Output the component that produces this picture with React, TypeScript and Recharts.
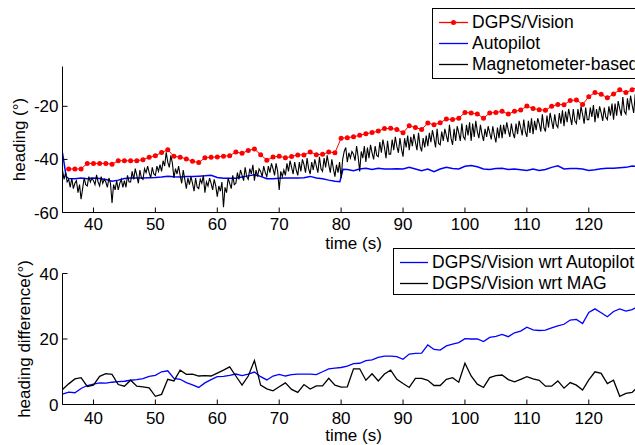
import { LineChart, Line, XAxis, YAxis, Legend } from 'recharts';

const FONT = '"Liberation Sans", Arial, Helvetica, sans-serif';

// ---- top panel: heading (deg) ----
const dgpsStart = 36; // one fix per second
const dgpsVision = [
  -43.6, -43.6, -43.6, -41.5, -41.5, -41.5, -41.5, -41.8, -40.5, -40.5,
  -40.5, -40.5, -40.1, -39.2, -38.6, -37.4, -36.4, -38.8, -39.2, -39.8,
  -40.7, -41.2, -39.4, -39.2, -39.1, -38.8, -38.6, -37.2, -37.7, -36.6,
  -36.1, -38.2, -40.3, -39.1, -38.8, -39.4, -38.9, -38.3, -38.3, -37.2,
  -38.2, -38.1, -37.2, -37.5, -32.0, -31.8, -31.5, -30.9, -30.3, -29.9,
  -29.3, -28.4, -28.3, -28.7, -30.0, -27.3, -28.0, -28.7, -26.3, -26.9,
  -26.2, -24.8, -25.0, -24.5, -22.3, -22.5, -22.9, -24.5, -22.5, -22.3,
  -21.9, -22.9, -21.9, -21.4, -19.9, -20.8, -21.3, -21.5, -20.0, -19.3,
  -19.4, -17.8, -17.6, -19.3, -16.4, -14.8, -15.5, -16.8, -15.4, -13.8,
  -14.8, -13.8, -12.5,
];

const autopilotTime = [
  35, 35.6, 36, 37, 38, 39, 40, 41, 42, 43, 44, 45, 46, 47, 48, 49, 50, 51, 52, 53,
  54, 55, 56, 57, 58, 59, 60, 61, 62, 63, 64, 65, 66, 67, 68, 69, 70, 71, 72, 73,
  74, 75, 76, 77, 78, 79, 79.8, 80.3, 81, 82, 83, 84, 85, 86, 87, 88, 89, 90, 91, 92,
  93, 94, 95, 96, 97, 98, 99, 100, 101, 102, 103, 104, 105, 106, 107, 108, 109, 110,
  111, 112, 113, 114, 115, 116, 117, 118, 119, 120, 121, 122, 123, 124, 125, 126, 127, 128,
];
const autopilotHeading = [
  -37.5, -46.5, -47.2, -47.3, -47.0, -47.3, -47.0, -47.2, -47.6, -48.2,
  -47.8, -47.2, -47.0, -47.0, -47.0, -46.9, -46.8, -46.6, -46.3, -46.5,
  -46.6, -46.4, -46.4, -46.3, -46.2, -46.0, -46.8, -47.1, -47.1, -47.1,
  -46.6, -46.2, -45.8, -46.4, -47.3, -47.3, -47.1, -47.0, -47.0, -47.0,
  -46.9, -46.4, -47.0, -47.3, -47.8, -48.2, -48.4, -43.7, -43.8, -44.3,
  -43.6, -43.3, -43.8, -43.3, -43.6, -43.6, -43.5, -43.6, -43.0, -43.6,
  -44.3, -43.6, -44.6, -43.6, -43.0, -43.4, -43.6, -42.6, -42.3, -42.8,
  -43.6, -43.8, -43.4, -43.3, -43.8, -43.6, -43.9, -44.2, -43.6, -44.2,
  -43.8, -43.0, -42.4, -43.6, -43.4, -43.4, -43.6, -44.2, -43.9, -43.5,
  -43.3, -43.3, -43.1, -43.0, -42.5, -42.6,
];

// magnetometer heading, 4 samples per second (one row per second)
const magStart = 35;
const magStep = 0.25;
const magHeading = [
  -44, -47.5, -45, -48.5,
  -47.5, -50.5, -47, -51,
  -49, -48, -52.5, -49.5,
  -55, -51, -47, -49.5,
  -50, -46.5, -48.5, -47,
  -48, -49.5, -45.8, -48.5,
  -50, -46.5, -49, -47.5,
  -48.5, -50.5, -47, -49,
  -56.4, -49.5, -51.5, -48,
  -51.5, -49, -47.5, -50.5,
  -48, -50.5, -46, -48.5,
  -48.5, -44.5, -47.5, -43.5,
  -46, -49, -44, -47,
  -47.5, -43.5, -45, -42.5,
  -45, -47, -43, -45.5,
  -46, -42.5, -44.5, -42,
  -44.5, -40.5, -42.5, -37.3,
  -41, -43, -38.5, -41.5,
  -47, -43.5, -45.5, -42.5,
  -46, -49, -44, -47.5,
  -51, -47, -49.5, -46.5,
  -49, -52, -47, -50.5,
  -51, -47.5, -49, -46,
  -52.5, -48.5, -50, -47,
  -49, -51.5, -47.5, -50,
  -54, -50, -52, -48.5,
  -58, -50.5, -52.5, -47,
  -49, -51, -46, -49.5,
  -49, -45, -47.5, -44,
  -46, -48, -43, -46.5,
  -47.5, -43.5, -45.5, -42,
  -48, -44, -46.5, -43.5,
  -44.5, -46.5, -42.5, -45,
  -46.5, -42.5, -45, -41.5,
  -43.5, -46, -41.5, -44.5,
  -51.5, -44.5, -46.5, -44,
  -46, -41.5, -44.5, -40.5,
  -43, -45.5, -41, -44,
  -46, -41, -44.5, -40,
  -42, -45, -39.5, -43.5,
  -45.5, -41, -44, -40,
  -42.5, -45, -39, -43.5,
  -44.5, -39.5, -43, -38.5,
  -42, -45, -40, -43.5,
  -46.5, -42, -45, -41,
  -47, -40, -37, -35.5,
  -41, -37.5, -39.5, -37,
  -38, -40.5, -35, -39,
  -44.5, -37, -39.5, -35,
  -41, -35.5, -39.5, -34.5,
  -37.5, -40, -35, -38.5,
  -39, -33.5, -37.5, -32.5,
  -35.5, -39.5, -33, -38,
  -38, -32.5, -36.5, -31.5,
  -35, -37.5, -32, -36,
  -39, -32, -35.5, -31,
  -36.5, -31.5, -35, -30.5,
  -33.5, -36.5, -30, -35,
  -37, -32, -35.5, -31,
  -35, -30, -33.5, -29,
  -32, -35.5, -28.5, -34,
  -34.5, -29.5, -33, -28.5,
  -31, -33.5, -27, -32,
  -34.5, -28.5, -33, -27.5,
  -30, -33, -26.5, -31.5,
  -32.5, -27, -31, -26,
  -33, -26.5, -31.5, -25.5,
  -29.5, -32, -27, -30.5,
  -33, -28.5, -31.5, -27.5,
  -30, -32.5, -27.5, -31,
  -33.6, -28, -32, -27,
  -32, -27, -30.5, -26,
  -29, -31.5, -26.5, -30,
  -32, -26.5, -30.5, -25.5,
  -28, -31, -25, -29.5,
  -31.5, -25.5, -30, -24.5,
  -30.5, -25.5, -29, -24.5,
  -26.5, -29.5, -23, -28,
  -29.5, -23.5, -28, -22.5,
  -25.5, -28.5, -23, -27,
  -28, -22.5, -26.5, -21.5,
  -27.5, -22, -26, -21,
  -24, -27, -21, -25.5,
  -26.5, -21, -25, -20,
  -23, -26.5, -20.5, -25,
  -25, -20.5, -24, -19.5,
  -26, -21, -24.5, -20,
  -22.5, -25.5, -20.5, -24,
  -25, -20, -23.5, -19,
  -25, -19, -23.5, -18,
  -21, -23.5, -16.5, -22,
  -23, -17, -21.5, -16,
  -19.5, -22.5, -15.5, -21,
  -21,
];

// ---- bottom panel: heading difference (deg), one value per second ----
const diffStart = 35;
const diffWrtAutopilot = [
  3.2, 3.8, 3.6, 4.9, 5.8, 6.2, 6.6, 6.5, 6.8, 7.0,
  7.1, 7.4, 7.6, 7.9, 8.6, 8.9, 10.0, 10.3, 8.0, 7.7,
  6.7, 6.0, 5.2, 6.6, 7.6, 8.5, 8.6, 8.9, 9.3, 8.8,
  9.3, 9.9, 8.5, 7.5, 8.7, 9.2, 8.7, 9.1, 9.3, 9.3,
  9.3, 9.1, 10.0, 10.9, 11.1, 11.3, 11.7, 12.5, 12.6, 13.4,
  13.6, 14.4, 14.8, 14.8, 14.6, 13.8, 15.4, 15.6, 15.7, 18.2,
  16.8, 16.6, 17.9, 18.4, 18.9, 20.1, 20.0, 20.0, 19.2, 20.5,
  20.8, 21.4, 20.7, 21.9, 22.4, 23.6, 22.8, 22.6, 22.7, 23.4,
  24.0, 24.5, 25.8, 26.0, 24.7, 28.1, 29.2, 28.0, 26.8, 28.4,
  29.2, 28.5, 29.0, 30.0,
];
const diffWrtMag = [
  4.6, 6.3, 7.8, 8.2, 5.5, 5.9, 8.6, 9.4, 9.2, 6.1,
  5.6, 7.4, 5.6, 5.4, 5.1, 2.5, 3.1, 7.7, 7.2, 10.5,
  9.2, 9.3, 8.7, 8.8, 8.7, 9.6, 10.5, 11.5, 8.7, 5.9,
  8.7, 13.4, 5.9, 4.8, 4.2, 5.4, 6.6, 4.6, 3.7, 6.1,
  4.7, 5.7, 5.7, 8.0, 5.9, 5.3, 5.4, 10.9, 10.9, 7.4,
  9.4, 7.2, 9.3, 10.5, 7.7, 6.4, 5.2, 8.0, 8.0, 7.4,
  5.8, 5.8, 7.7, 8.2, 6.8, 12.6, 8.7, 6.2, 5.2, 8.2,
  8.8, 9.0, 7.6, 6.9, 7.7, 8.5, 7.8, 7.4, 5.6, 5.6,
  7.2, 5.0, 6.7, 5.9, 4.4, 7.5, 10.0, 9.5, 6.4, 7.4,
  2.5, 3.4, 3.7, 5.6,
];

const timeTicks = [40, 50, 60, 70, 80, 90, 100, 110, 120];
const headingTicks = [-60, -40, -20];
const diffTicks = [0, 20, 40];

const series = (start: number, step: number, values: number[]) =>
  values.map((v, i) => ({ t: start + i * step, v }));

const dgpsPts = series(dgpsStart, 1, dgpsVision);
const autopilotPts = autopilotTime.map((t, i) => ({ t, v: autopilotHeading[i] }));
const magPts = series(magStart, magStep, magHeading);
const wrtAutopilotPts = series(diffStart, 1, diffWrtAutopilot);
const wrtMagPts = series(diffStart, 1, diffWrtMag);

const tickStyle = { fontSize: 17, fill: '#000', fontFamily: FONT };

type Item = { name: string; color: string; dot?: boolean };

function LegendBox({ items, sample, padTop, padBottom }: { items: Item[]; sample: number; padTop: number; padBottom: number }) {
  return (
    <div
      style={{
        border: '1px solid #000',
        background: '#fff',
        padding: `${padTop}px 40px ${padBottom}px 6px`,
        fontFamily: FONT,
        fontSize: 17.5,
        lineHeight: '21px',
        color: '#000',
        whiteSpace: 'nowrap',
      }}
    >
      {items.map((it) => (
        <div key={it.name} style={{ display: 'flex', alignItems: 'center', height: 21 }}>
          <svg width={sample} height={21} style={{ marginRight: 4, flex: 'none' }}>
            <line x1={0} x2={sample} y1={10.5} y2={10.5} stroke={it.color} strokeWidth={1.3} />
            {it.dot && <circle cx={sample / 2} cy={10.5} r={2.5} fill={it.color} />}
          </svg>
          <span>{it.name}</span>
        </div>
      ))}
    </div>
  );
}

const topItems: Item[] = [
  { name: 'DGPS/Vision', color: '#ff0000', dot: true },
  { name: 'Autopilot', color: '#0000ff' },
  { name: 'Magnetometer-based', color: '#000' },
];
const bottomItems: Item[] = [
  { name: 'DGPS/Vision wrt Autopilot', color: '#0000ff' },
  { name: 'DGPS/Vision wrt MAG', color: '#000' },
];

export default function App() {
  return (
    <div
      style={{
        position: 'absolute',
        left: 0,
        top: 0,
        width: 635,
        height: 445,
        overflow: 'hidden',
        background: '#fff',
        fontFamily: FONT,
      }}
    >
      <div style={{ position: 'absolute', left: 0, top: 0 }}>
        <LineChart width={645} height={260} margin={{ top: 66.5, right: 0.5, bottom: 0, left: 0.5 }}>
          <XAxis
            type="number"
            dataKey="t"
            domain={[35, 129]}
            ticks={timeTicks}
            allowDataOverflow
            height={47.5}
            stroke="#000"
            tickSize={-5}
            tickMargin={10}
            tick={tickStyle}
            label={{ value: 'time (s)', position: 'insideBottom', offset: 11, fill: '#000', fontSize: 17 }}
          />
          <XAxis
            xAxisId="top"
            orientation="top"
            type="number"
            dataKey="t"
            domain={[35, 129]}
            ticks={timeTicks}
            allowDataOverflow
            height={0}
            stroke="#000"
            tickSize={-5}
            tick={false}
          />
          <YAxis
            type="number"
            domain={[-60, -5]}
            ticks={headingTicks}
            allowDataOverflow
            width={62}
            stroke="#000"
            tickSize={-5}
            tickMargin={9}
            tick={tickStyle}
            label={{
              value: 'heading (°)',
              angle: -90,
              position: 'insideLeft',
              offset: 18,
              fill: '#000',
              fontSize: 17,
              style: { textAnchor: 'middle' },
            }}
          />
          <Line data={dgpsPts} dataKey="v" type="linear" stroke="#ff0000" strokeWidth={1}
            dot={{ r: 2.5, fill: '#ff0000', stroke: 'none' }} isAnimationActive={false} />
          <Line data={autopilotPts} dataKey="v" type="linear" stroke="#0000ff" strokeWidth={1.5}
            dot={false} isAnimationActive={false} />
          <Line data={magPts} dataKey="v" type="linear" stroke="#000" strokeWidth={1.1}
            dot={false} isAnimationActive={false} />
          <Legend
            layout="horizontal"
            verticalAlign="middle"
            align="center"
            wrapperStyle={{ left: 432, top: 8, width: 'auto' }}
            content={() => <LegendBox items={topItems} sample={29} padTop={3} padBottom={3} />}
          />
        </LineChart>
      </div>
      <div style={{ position: 'absolute', left: 0, top: 245 }}>
        <LineChart width={645} height={200} margin={{ top: 28.5, right: 0.5, bottom: 0, left: 0.5 }}>
          <XAxis
            type="number"
            dataKey="t"
            domain={[35, 129]}
            ticks={timeTicks}
            allowDataOverflow
            height={40.5}
            stroke="#000"
            tickSize={-5}
            tickMargin={12}
            tick={tickStyle}
            label={{ value: 'time (s)', position: 'insideBottom', offset: 4, fill: '#000', fontSize: 17 }}
          />
          <XAxis
            xAxisId="top"
            orientation="top"
            type="number"
            dataKey="t"
            domain={[35, 129]}
            ticks={timeTicks}
            allowDataOverflow
            height={0}
            stroke="#000"
            tickSize={-5}
            tick={false}
          />
          <YAxis
            type="number"
            domain={[0, 40]}
            ticks={diffTicks}
            allowDataOverflow
            width={62}
            stroke="#000"
            tickSize={-5}
            tickMargin={9}
            tick={tickStyle}
            label={{
              value: 'heading difference(°)',
              angle: -90,
              position: 'insideLeft',
              offset: 23,
              fill: '#000',
              fontSize: 17,
              style: { textAnchor: 'middle' },
            }}
          />
          <Line data={wrtAutopilotPts} dataKey="v" type="linear" stroke="#0000ff" strokeWidth={1.3}
            dot={false} isAnimationActive={false} />
          <Line data={wrtMagPts} dataKey="v" type="linear" stroke="#000" strokeWidth={1.3}
            dot={false} isAnimationActive={false} />
          <Legend
            layout="horizontal"
            verticalAlign="middle"
            align="center"
            wrapperStyle={{ left: 393, top: 3, width: 'auto' }}
            content={() => <LegendBox items={bottomItems} sample={28} padTop={2.5} padBottom={0.5} />}
          />
        </LineChart>
      </div>
    </div>
  );
}
